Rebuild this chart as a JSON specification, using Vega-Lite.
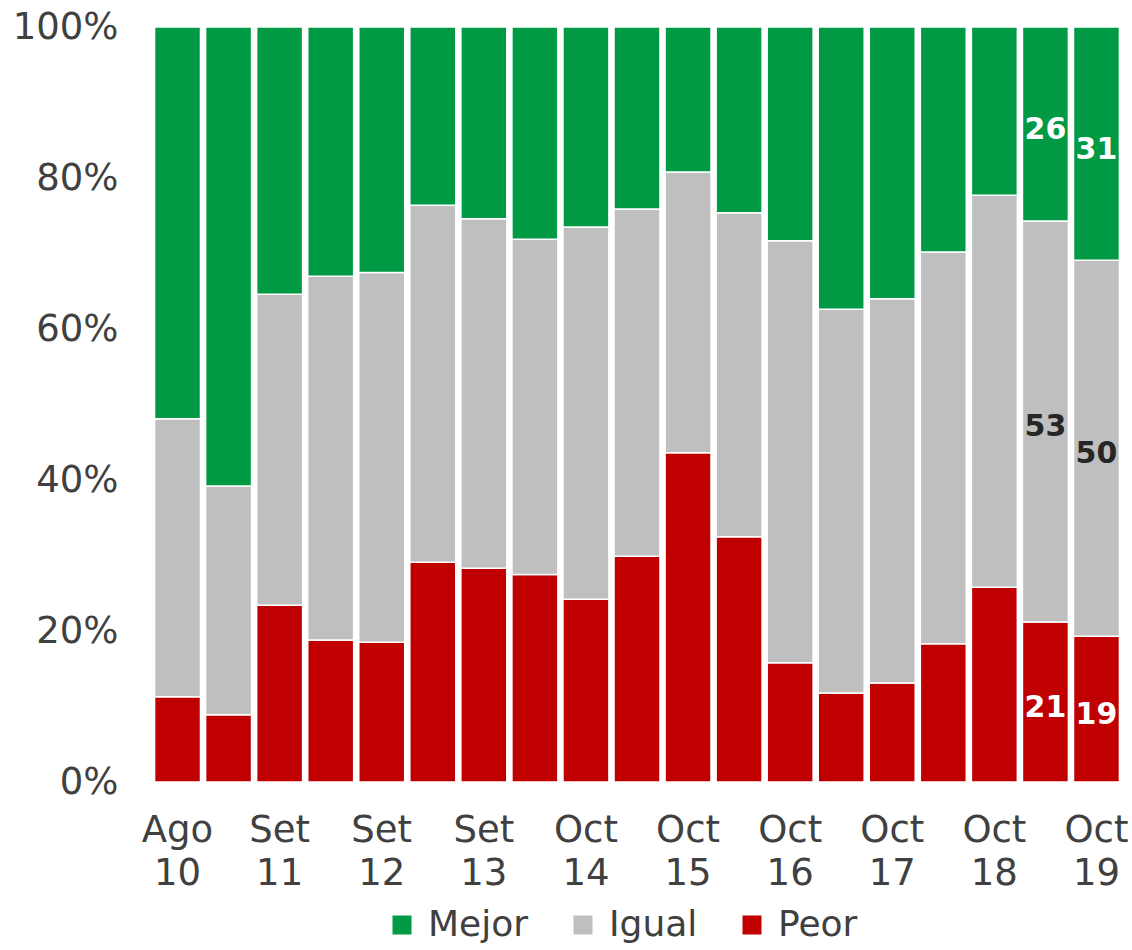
{
  "$schema": "https://vega.github.io/schema/vega-lite/v6.json",
  "autosize": "none",
  "width": 970,
  "height": 755,
  "padding": {"left": 152, "top": 27, "right": 10, "bottom": 168},
  "background": "white",
  "config": {
    "view": {"stroke": null},
    "font": "DejaVu Sans"
  },
  "data": {
    "values": [
      {"periodo": "Ago 10", "orden": 1, "categoria": "Peor", "valor": 11.3},
      {"periodo": "Ago 10", "orden": 2, "categoria": "Igual", "valor": 36.8},
      {"periodo": "Ago 10", "orden": 3, "categoria": "Mejor", "valor": 51.9},
      {"periodo": "(2)", "orden": 1, "categoria": "Peor", "valor": 8.9},
      {"periodo": "(2)", "orden": 2, "categoria": "Igual", "valor": 30.3},
      {"periodo": "(2)", "orden": 3, "categoria": "Mejor", "valor": 60.8},
      {"periodo": "Set 11", "orden": 1, "categoria": "Peor", "valor": 23.4},
      {"periodo": "Set 11", "orden": 2, "categoria": "Igual", "valor": 41.2},
      {"periodo": "Set 11", "orden": 3, "categoria": "Mejor", "valor": 35.4},
      {"periodo": "(4)", "orden": 1, "categoria": "Peor", "valor": 18.8},
      {"periodo": "(4)", "orden": 2, "categoria": "Igual", "valor": 48.2},
      {"periodo": "(4)", "orden": 3, "categoria": "Mejor", "valor": 33.0},
      {"periodo": "Set 12", "orden": 1, "categoria": "Peor", "valor": 18.5},
      {"periodo": "Set 12", "orden": 2, "categoria": "Igual", "valor": 49.0},
      {"periodo": "Set 12", "orden": 3, "categoria": "Mejor", "valor": 32.5},
      {"periodo": "(6)", "orden": 1, "categoria": "Peor", "valor": 29.1},
      {"periodo": "(6)", "orden": 2, "categoria": "Igual", "valor": 47.3},
      {"periodo": "(6)", "orden": 3, "categoria": "Mejor", "valor": 23.6},
      {"periodo": "Set 13", "orden": 1, "categoria": "Peor", "valor": 28.3},
      {"periodo": "Set 13", "orden": 2, "categoria": "Igual", "valor": 46.3},
      {"periodo": "Set 13", "orden": 3, "categoria": "Mejor", "valor": 25.4},
      {"periodo": "(8)", "orden": 1, "categoria": "Peor", "valor": 27.5},
      {"periodo": "(8)", "orden": 2, "categoria": "Igual", "valor": 44.4},
      {"periodo": "(8)", "orden": 3, "categoria": "Mejor", "valor": 28.1},
      {"periodo": "Oct 14", "orden": 1, "categoria": "Peor", "valor": 24.2},
      {"periodo": "Oct 14", "orden": 2, "categoria": "Igual", "valor": 49.3},
      {"periodo": "Oct 14", "orden": 3, "categoria": "Mejor", "valor": 26.5},
      {"periodo": "(10)", "orden": 1, "categoria": "Peor", "valor": 29.9},
      {"periodo": "(10)", "orden": 2, "categoria": "Igual", "valor": 46.0},
      {"periodo": "(10)", "orden": 3, "categoria": "Mejor", "valor": 24.1},
      {"periodo": "Oct 15", "orden": 1, "categoria": "Peor", "valor": 43.6},
      {"periodo": "Oct 15", "orden": 2, "categoria": "Igual", "valor": 37.2},
      {"periodo": "Oct 15", "orden": 3, "categoria": "Mejor", "valor": 19.2},
      {"periodo": "(12)", "orden": 1, "categoria": "Peor", "valor": 32.5},
      {"periodo": "(12)", "orden": 2, "categoria": "Igual", "valor": 42.9},
      {"periodo": "(12)", "orden": 3, "categoria": "Mejor", "valor": 24.6},
      {"periodo": "Oct 16", "orden": 1, "categoria": "Peor", "valor": 15.8},
      {"periodo": "Oct 16", "orden": 2, "categoria": "Igual", "valor": 55.9},
      {"periodo": "Oct 16", "orden": 3, "categoria": "Mejor", "valor": 28.3},
      {"periodo": "(14)", "orden": 1, "categoria": "Peor", "valor": 11.8},
      {"periodo": "(14)", "orden": 2, "categoria": "Igual", "valor": 50.8},
      {"periodo": "(14)", "orden": 3, "categoria": "Mejor", "valor": 37.4},
      {"periodo": "Oct 17", "orden": 1, "categoria": "Peor", "valor": 13.1},
      {"periodo": "Oct 17", "orden": 2, "categoria": "Igual", "valor": 50.9},
      {"periodo": "Oct 17", "orden": 3, "categoria": "Mejor", "valor": 36.0},
      {"periodo": "(16)", "orden": 1, "categoria": "Peor", "valor": 18.3},
      {"periodo": "(16)", "orden": 2, "categoria": "Igual", "valor": 51.9},
      {"periodo": "(16)", "orden": 3, "categoria": "Mejor", "valor": 29.8},
      {"periodo": "Oct 18", "orden": 1, "categoria": "Peor", "valor": 25.8},
      {"periodo": "Oct 18", "orden": 2, "categoria": "Igual", "valor": 51.9},
      {"periodo": "Oct 18", "orden": 3, "categoria": "Mejor", "valor": 22.3},
      {"periodo": "(18)", "orden": 1, "categoria": "Peor", "valor": 21.2, "etiqueta": 21},
      {"periodo": "(18)", "orden": 2, "categoria": "Igual", "valor": 53.1, "etiqueta": 53},
      {"periodo": "(18)", "orden": 3, "categoria": "Mejor", "valor": 25.7, "etiqueta": 26},
      {"periodo": "Oct 19", "orden": 1, "categoria": "Peor", "valor": 19.3, "etiqueta": 19},
      {"periodo": "Oct 19", "orden": 2, "categoria": "Igual", "valor": 49.8, "etiqueta": 50},
      {"periodo": "Oct 19", "orden": 3, "categoria": "Mejor", "valor": 30.9, "etiqueta": 31}
    ]
  },
  "transform": [
    {"stack": "valor", "groupby": ["periodo"], "sort": [{"field": "orden"}], "offset": "normalize", "as": ["y0", "y1"]},
    {"calculate": "(datum.y0 + datum.y1) / 2", "as": "ymid"}
  ],
  "encoding": {
    "x": {
      "field": "periodo",
      "type": "ordinal",
      "sort": null,
      "scale": {"paddingInner": 0.1, "paddingOuter": 0.05},
      "axis": {
        "title": null,
        "labelAngle": 0,
        "domain": false,
        "ticks": false,
        "labelFontSize": 37,
        "labelColor": "#404040",
        "labelPadding": 30,
        "labelLineHeight": 43,
        "labelBaseline": "top",
        "labelExpr": "indexof(datum.label, ' ') > 0 ? split(datum.label, ' ') : ''"
      }
    }
  },
  "layer": [
    {
      "mark": {"type": "bar", "stroke": "white", "strokeWidth": 1.5},
      "encoding": {
        "y": {
          "field": "y0",
          "type": "quantitative",
          "scale": {"domain": [0, 1], "nice": false},
          "axis": {
            "title": null,
            "format": ".0%",
            "values": [0, 0.2, 0.4, 0.6, 0.8, 1],
            "grid": false,
            "domain": false,
            "ticks": false,
            "labelFontSize": 37,
            "labelColor": "#404040",
            "labelPadding": 34
          }
        },
        "y2": {"field": "y1"},
        "color": {
          "field": "categoria",
          "type": "nominal",
          "scale": {"domain": ["Mejor", "Igual", "Peor"], "range": ["#009A44", "#BFBFBF", "#C00000"]},
          "legend": {
            "title": null,
            "orient": "none",
            "direction": "horizontal",
            "legendX": 232,
            "legendY": 880,
            "symbolType": "square",
            "symbolSize": 361,
            "symbolStrokeWidth": 0,
            "labelFontSize": 36,
            "labelColor": "#404040",
            "labelOffset": 8,
            "columnPadding": 36
          }
        }
      }
    },
    {
      "transform": [{"filter": "isValid(datum.etiqueta)"}],
      "mark": {"type": "text", "fontSize": 30, "fontWeight": "bold", "baseline": "middle", "align": "center", "dy": 6},
      "encoding": {
        "y": {"field": "ymid", "type": "quantitative"},
        "text": {"field": "etiqueta", "type": "quantitative"},
        "color": {
          "condition": {"test": "datum.categoria === 'Igual'", "value": "#262626"},
          "value": "white"
        }
      }
    }
  ]
}
